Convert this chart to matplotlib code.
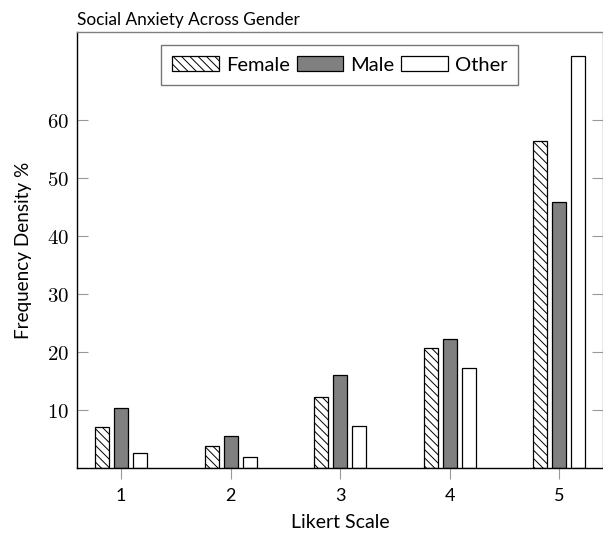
import matplotlib
matplotlib.use("Agg")
import matplotlib.pyplot as plt
import numpy as np
from matplotlib.ticker import FixedLocator, FuncFormatter

plt.rcParams['font.family'] = ['Lato', 'DejaVu Sans']
plt.rcParams['mathtext.fontset'] = 'cm'
plt.rcParams['hatch.linewidth'] = 0.7

categories = [1, 2, 3, 4, 5]
series_names = ["Female", "Male", "Other"]
female = [7.1, 3.8, 12.3, 20.7, 56.3]
male = [10.4, 5.6, 16.0, 22.2, 45.8]
other = [2.7, 2.0, 7.3, 17.2, 71.0]
yticks = [10, 20, 30, 40, 50, 60]

fig = plt.figure(figsize=(6.03, 5.35), dpi=100)
ax = fig.add_axes([0.1282, 0.1243, 0.9992 - 0.1282, 0.9396 - 0.1243])

x = np.array(categories, dtype=float)
w = 0.128
off = 0.174
ax.bar(x - off, female, w, facecolor='white', edgecolor='black', hatch='\\\\\\\\', linewidth=0.9, label=series_names[0])
ax.bar(x, male, w, facecolor='#808080', edgecolor='black', linewidth=0.9, label=series_names[1])
ax.bar(x + off, other, w, facecolor='white', edgecolor='black', linewidth=0.9, label=series_names[2])

ax.set_xlim(0.6, 5.394)
ax.set_ylim(0, 75)

ax.xaxis.set_major_locator(FixedLocator(categories))
ax.set_xticklabels([str(c) for c in categories])
ax.yaxis.set_major_locator(FixedLocator(yticks))
ax.yaxis.set_major_formatter(FuncFormatter(lambda v, p: r'$%d$' % v))

ax.tick_params(axis='x', direction='out', length=8, width=0.8, color='#999999',
               labelsize=13, pad=6, top=False)
ax.tick_params(axis='y', direction='in', length=8, width=0.8, color='#999999',
               labelsize=15, pad=6, right=True, labelright=False)

for s in ['left', 'bottom']:
    ax.spines[s].set_color('black')
    ax.spines[s].set_linewidth(1.0)
for s in ['top', 'right']:
    ax.spines[s].set_color('#808080')
    ax.spines[s].set_linewidth(1.0)

ax.set_xlabel('Likert Scale', fontsize=14, labelpad=7)
ax.set_ylabel('Frequency Density %', fontsize=13.6, labelpad=11)
ax.set_title('Social Anxiety Across Gender', loc='left', fontsize=12.4, pad=5)

leg = ax.legend(loc='upper center', bbox_to_anchor=(0.5, 0.97), ncol=3, fontsize=14.5,
                frameon=True, fancybox=False, edgecolor='#555555', handlelength=2.3,
                handleheight=0.72, handletextpad=0.35, columnspacing=0.35, borderpad=0.55,
                borderaxespad=0)
leg.get_frame().set_linewidth(1.0)

fig.savefig('out.png', dpi=100)
